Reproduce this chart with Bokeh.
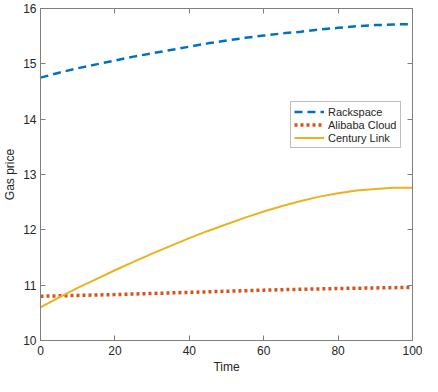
from bokeh.plotting import figure
from bokeh.models import LinearAxis, Legend, LegendItem, Range1d, FixedTicker
from bokeh.embed import file_html
from bokeh.resources import INLINE

time = [0, 5, 10, 15, 20, 25, 30, 35, 40, 45, 50, 55, 60, 65, 70, 75, 80, 85, 90, 95, 100]
rackspace = [14.75, 14.84, 14.92, 14.99, 15.06, 15.13, 15.19, 15.25, 15.31, 15.37, 15.42,
             15.47, 15.51, 15.55, 15.58, 15.62, 15.65, 15.68, 15.70, 15.71, 15.72]
alibaba = [10.80, 10.807, 10.815, 10.822, 10.83, 10.84, 10.85, 10.86, 10.87, 10.88, 10.89,
           10.90, 10.91, 10.918, 10.925, 10.933, 10.94, 10.945, 10.95, 10.955, 10.96]
century = [10.60, 10.78, 10.95, 11.11, 11.27, 11.42, 11.57, 11.71, 11.85, 11.98, 12.10,
           12.22, 12.33, 12.43, 12.52, 12.60, 12.66, 12.71, 12.74, 12.76, 12.76]
x_ticks = [0, 20, 40, 60, 80, 100]
y_ticks = [10, 11, 12, 13, 14, 15, 16]

FONT = "Liberation Sans"
AX = "#808080"
TXT = "#262626"

p = figure(width=422, height=376, output_backend="svg", toolbar_location=None,
           x_range=Range1d(0, 100), y_range=Range1d(10, 16),
           min_border_left=34, min_border_right=10, min_border_top=8, min_border_bottom=30)
p.grid.visible = False
p.outline_line_color = AX
p.background_fill_color = "white"

r1 = p.line(time, rackspace, line_color="#0072BD", line_width=2.5, line_dash="8 5")
r2 = p.line(time, alibaba, line_color="#D95319", line_width=3.5, line_dash="3 3")
r3 = p.line(time, century, line_color="#EDB120", line_width=2)

def style(ax, labels=True):
    ax.axis_line_color = AX
    ax.major_tick_line_color = AX
    ax.major_tick_in = 5
    ax.major_tick_out = 0
    ax.minor_tick_line_color = None
    ax.major_label_text_font = FONT
    ax.major_label_text_font_size = "12px"
    ax.major_label_text_color = TXT if labels else None
    ax.axis_label_text_font = FONT
    ax.axis_label_text_font_size = "12px"
    ax.axis_label_text_font_style = "normal"
    ax.axis_label_text_color = TXT

p.xaxis.ticker = FixedTicker(ticks=x_ticks)
p.yaxis.ticker = FixedTicker(ticks=y_ticks)
p.xaxis.axis_label = "Time"
p.yaxis.axis_label = "Gas price"
p.xaxis.axis_label_standoff = 2
p.yaxis.axis_label_standoff = 3
p.xaxis.major_label_standoff = 5
p.yaxis.major_label_standoff = 4
style(p.xaxis[0])
style(p.yaxis[0])

top = LinearAxis(ticker=FixedTicker(ticks=x_ticks))
right = LinearAxis(ticker=FixedTicker(ticks=y_ticks))
style(top, labels=False)
style(right, labels=False)
top.major_label_text_font_size = "0px"
right.major_label_text_font_size = "0px"
top.major_label_standoff = 0
right.major_label_standoff = 0
p.add_layout(top, "above")
p.add_layout(right, "right")

legend = Legend(items=[LegendItem(label="Rackspace", renderers=[r1]),
                       LegendItem(label="Alibaba Cloud", renderers=[r2]),
                       LegendItem(label="Century Link", renderers=[r3])],
                location=(250, 192))
legend.label_text_font = FONT
legend.label_text_font_size = "11px"
legend.label_text_color = TXT
legend.border_line_color = AX
legend.border_line_width = 1
legend.padding = 3
legend.spacing = 0
legend.glyph_width = 30
legend.glyph_height = 13
legend.label_height = 13
legend.label_standoff = 4
legend.margin = 0
p.add_layout(legend, "center")

open("out.html", "w").write(file_html(p, INLINE))
